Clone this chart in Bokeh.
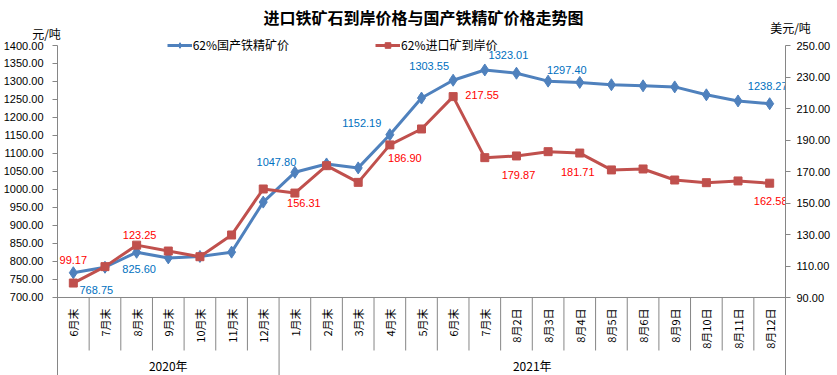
import math
from bokeh.plotting import figure
from bokeh.models import (Range1d, LinearAxis, FixedTicker, NumeralTickFormatter,
                          ColumnDataSource, Label, Legend, LegendItem, GridBox,
                          Column)
from bokeh.core.properties import value
from bokeh.embed import file_html
from bokeh.resources import INLINE

# ---------------- data ----------------
categories = ["6月末", "7月末", "8月末", "9月末", "10月末", "11月末", "12月末",
              "1月末", "2月末", "3月末", "4月末", "5月末", "6月末", "7月末",
              "8月2日", "8月3日", "8月4日", "8月5日", "8月6日", "8月9日",
              "8月10日", "8月11日", "8月12日"]
years = ["2020年", "2021年"]
year_sizes = [7, 16]

domestic = [768.75, 784, 825.60, 810, 814, 826, 965, 1047.80, 1071, 1060,
            1152.19, 1254, 1303.55, 1332, 1323.01, 1301, 1297.40, 1291, 1288,
            1285, 1263, 1246, 1238.27]
imported = [99.17, 109.6, 123.25, 119.5, 115.9, 129.7, 158.9, 156.31, 173.7,
            163.1, 186.90, 197.0, 217.55, 178.8, 179.87, 182.6, 181.71, 171.0,
            171.6, 164.6, 162.9, 164.0, 162.58]

left_ticks = list(range(700, 1401, 50))
right_ticks = list(range(90, 251, 20))

labelled_idx = [0, 2, 7, 10, 12, 14, 16, 22]

title_text = "进口铁矿石到岸价格与国产铁精矿价格走势图"
left_unit = "元/吨"
right_unit = "美元/吨"
series_names = ["62%国产铁精矿价", "62%进口矿到岸价"]

# ---------------- styles ----------------
BLUE = "#4F81BD"
RED = "#C0504D"
BLUE_TXT = "#0070C0"
RED_TXT = "#FF0000"
GRID = "#868686"
CJK = "Noto Sans CJK SC"
NUM = "Liberation Sans"
W, H = 837, 375

dom_dx = [23, 2.5, -18.5, -28, -24, -8, -13, -2]
dom_dy = [17, 17, -10, -12, -14.5, -18, -12, -17.5]
imp_dx = [0, 3, 9, 15, 29, 2, -2, 1]
imp_dy = [-23, -10.5, 10, 13.5, -1.5, 19, 19, 18]

n = len(categories)
xs = [i + 0.5 for i in range(n)]
Y_BOTTOM_L = 483.33
Y_BOTTOM_R = 40.48

p = figure(width=W, height=H, x_range=Range1d(0, n),
           y_range=Range1d(Y_BOTTOM_L, 1400), title=None,
           output_backend="svg", toolbar_location=None,
           x_axis_type=None, y_axis_type=None,
           min_border_left=55, min_border_right=52,
           min_border_top=45, min_border_bottom=0)
p.extra_y_ranges = {"usd": Range1d(Y_BOTTOM_R, 250)}
p.outline_line_color = None
p.background_fill_color = "white"

left = LinearAxis(ticker=FixedTicker(ticks=left_ticks, minor_ticks=[]),
                  formatter=NumeralTickFormatter(format="0.00"),
                  axis_line_color=GRID, major_tick_line_color=GRID,
                  major_tick_out=5, major_tick_in=0, minor_tick_line_color=None,
                  major_label_standoff=9, major_label_text_font=NUM,
                  major_label_text_font_size="11px",
                  major_label_text_color="#000000")
p.add_layout(left, "left")
right = LinearAxis(y_range_name="usd",
                   ticker=FixedTicker(ticks=right_ticks, minor_ticks=[]),
                   formatter=NumeralTickFormatter(format="0.00"),
                   axis_line_color=GRID, major_tick_line_color=GRID,
                   major_tick_out=5, major_tick_in=0, minor_tick_line_color=None,
                   major_label_standoff=6, major_label_text_font=NUM,
                   major_label_text_font_size="11px",
                   major_label_text_color="#000000")
p.add_layout(right, "right")

# category axis drawn by hand (two levels)
base = left_ticks[0]
p.segment(x0=[0], y0=[base], x1=[n], y1=[base], line_color=GRID, line_width=1)
year_bounds = []
acc = 0
for s in year_sizes:
    acc += s
    year_bounds.append(acc)
sep_x, sep_y1 = [], []
for b in range(1, n):
    sep_x.append(b)
    sep_y1.append(Y_BOTTOM_L if b in year_bounds else 552.8)
p.segment(x0=sep_x, y0=[base] * len(sep_x), x1=sep_x, y1=sep_y1,
          line_color=GRID, line_width=1)

p.text(x=xs, y=[base] * n, text=categories, angle=math.pi / 2,
       y_offset=11, text_align="right", text_baseline="middle",
       text_font=value(CJK), text_font_size="11px", text_color="#000000")

yc, start = [], 0
for s in year_sizes:
    yc.append(start + s / 2)
    start += s
p.text(x=yc, y=[base] * len(yc), text=years, y_offset=68,
       text_align="center", text_baseline="middle",
       text_font=value(CJK), text_font_size="12px", text_color="#000000")

src = ColumnDataSource(dict(x=xs, dom=domestic, imp=imported))
p.line("x", "dom", source=src, line_color=BLUE, line_width=3)
p.scatter("x", "dom", source=src, marker="diamond", size=12,
          fill_color=BLUE, line_color=BLUE)
p.line("x", "imp", source=src, y_range_name="usd", line_color=RED,
       line_width=3)
p.scatter("x", "imp", source=src, y_range_name="usd", marker="square",
          size=8, fill_color=RED, line_color=RED)

dsrc = ColumnDataSource(dict(
    x=[xs[i] for i in labelled_idx], y=[domestic[i] for i in labelled_idx],
    t=["%.2f" % domestic[i] for i in labelled_idx], dx=dom_dx, dy=dom_dy))
p.text(x="x", y="y", text="t", x_offset="dx", y_offset="dy", source=dsrc,
       text_align="center", text_baseline="middle", text_font=value(NUM),
       text_font_size="11px", text_color=BLUE_TXT)
isrc = ColumnDataSource(dict(
    x=[xs[i] for i in labelled_idx], y=[imported[i] for i in labelled_idx],
    t=["%.2f" % imported[i] for i in labelled_idx], dx=imp_dx, dy=imp_dy))
p.text(x="x", y="y", text="t", x_offset="dx", y_offset="dy", source=isrc,
       y_range_name="usd", text_align="center", text_baseline="middle",
       text_font=value(NUM), text_font_size="11px", text_color=RED_TXT)

# ---------------- overlay for title, units and legend ----------------
ov = figure(width=W, height=H, x_range=Range1d(0, W), y_range=Range1d(H, 0),
            title=None, output_backend="svg", toolbar_location=None,
            x_axis_type=None, y_axis_type=None,
            min_border_left=0, min_border_right=0,
            min_border_top=0, min_border_bottom=0)
ov.outline_line_color = None
ov.background_fill_alpha = 0
ov.border_fill_alpha = 0

ov.add_layout(Label(x=423, y=16, text=title_text, text_align="center",
                    text_baseline="middle", text_font=CJK, text_font_style="bold",
                    text_font_size="16px", text_color="#000000"))
ov.add_layout(Label(x=46, y=33, text=left_unit, text_align="center",
                    text_baseline="middle", text_font=CJK,
                    text_font_size="12px", text_color="#000000"))
ov.add_layout(Label(x=790, y=27, text=right_unit, text_align="center",
                    text_baseline="middle", text_font=CJK,
                    text_font_size="12px", text_color="#000000"))

# legend proxies: one point each, placed off the visible canvas
proxy = ColumnDataSource(dict(x=[-1000], y=[-1000]))
lb = ov.line("x", "y", source=proxy, line_color=BLUE, line_width=3)
mb = ov.scatter("x", "y", source=proxy, marker="diamond", size=9,
                fill_color=BLUE, line_color=BLUE)
lr = ov.line("x", "y", source=proxy, line_color=RED, line_width=3)
mr = ov.scatter("x", "y", source=proxy, marker="square", size=8,
                fill_color=RED, line_color=RED)
legend = Legend(items=[LegendItem(label=series_names[0], renderers=[lb, mb]),
                       LegendItem(label=series_names[1], renderers=[lr, mr])],
                orientation="horizontal", location=(166.7, H - 53),
                glyph_width=25, glyph_height=14, label_height=14,
                label_standoff=1, spacing=86, padding=0, margin=0,
                border_line_color=None, background_fill_alpha=0,
                label_text_font=CJK, label_text_font_size="12px",
                label_text_color="#000000",
                label_text_baseline="middle")
ov.add_layout(legend, "center")

layout = GridBox(children=[(p, 0, 0), (Column(children=[ov]), 0, 0)])
open("out.html", "w").write(file_html(layout, INLINE))
